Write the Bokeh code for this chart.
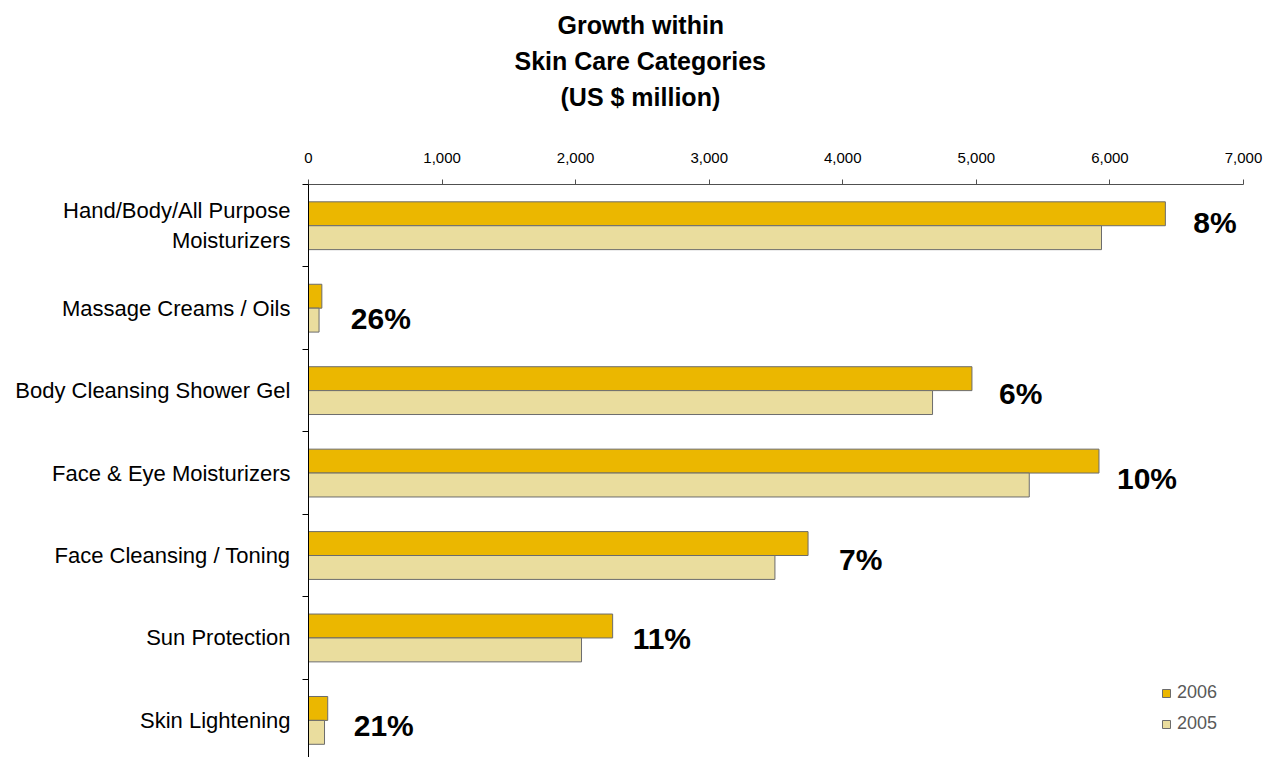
from bokeh.plotting import figure
from bokeh.models import (Range1d, LinearAxis, FixedTicker, NumeralTickFormatter,
                          Legend, LegendItem, Title, ColumnDataSource)
from bokeh.embed import file_html
from bokeh.resources import INLINE

# ---- data ----
categories = ["Hand/Body/All Purpose\nMoisturizers", "Massage Creams / Oils",
              "Body Cleansing Shower Gel", "Face & Eye Moisturizers",
              "Face Cleansing / Toning", "Sun Protection", "Skin Lightening"]
sales_2006 = [6415, 100, 4967, 5918, 3740, 2277, 144]
sales_2005 = [5937, 79, 4672, 5396, 3492, 2044, 120]
growth_labels = ["8%", "26%", "6%", "10%", "7%", "11%", "21%"]
x_ticks = [0, 1000, 2000, 3000, 4000, 5000, 6000, 7000]
series_names = ["2006", "2005"]
title_lines = ["Growth within", "Skin Care Categories", "(US $ million)"]

# ---- layout / style ----
FONT = "Liberation Sans"
C2006 = "#EBB700"
C2005 = "#EADD9E"
OUTLINE = "#6c6c6c"
BAR_H = 0.29
label_dx = [28, 29, 27, 18, 31, 20, 26]
label_dy = [-3, 10, 3, 5, 4, 1, 5]
LEFT, TOP = 308, 184
# left offset of each (left-aligned) title line so that it is centred on the page
title_offsets = [249, 206, 252]

n = len(categories)
idx = list(range(n))

p = figure(width=1265, height=757, output_backend="svg", toolbar_location=None,
           x_range=Range1d(0, 7000), y_range=Range1d(n - 0.55, -0.5),
           x_axis_location="above", y_axis_location=None,
           min_border_left=LEFT, min_border_right=22, min_border_top=TOP,
           min_border_bottom=0, outline_line_color=None)
p.grid.visible = False
p.background_fill_color = "white"

src = ColumnDataSource(dict(
    y6=[i - BAR_H / 2 for i in idx], y5=[i + BAR_H / 2 for i in idx],
    v6=sales_2006, v5=sales_2005, y=idx, lab=growth_labels,
    dx=label_dx, dy=label_dy))

r6 = p.hbar(y="y6", left=0, right="v6", height=BAR_H, source=src,
            fill_color=C2006, line_color=OUTLINE, line_width=1)
r5 = p.hbar(y="y5", left=0, right="v5", height=BAR_H, source=src,
            fill_color=C2005, line_color=OUTLINE, line_width=1)

p.text(x="v6", y="y", text="lab", x_offset="dx", y_offset="dy", source=src,
       text_align="left", text_baseline="middle", text_font_size="30px",
       text_font_style="bold", text_font={"value": FONT}, text_color="black")

# top axis
xa = p.xaxis[0]
xa.ticker = FixedTicker(ticks=x_ticks)
xa.formatter = NumeralTickFormatter(format="0,0")
xa.major_label_text_font = FONT
xa.major_label_text_font_size = "15px"
xa.major_label_text_color = "black"
xa.major_tick_out = 5
xa.major_tick_in = 0
xa.minor_tick_out = 0
xa.minor_tick_in = 0
xa.axis_line_color = "#505050"
xa.major_tick_line_color = "#505050"
xa.major_label_standoff = 17

# left category axis (labels at centres, ticks at band boundaries)
ya = LinearAxis(
    ticker=FixedTicker(ticks=idx, minor_ticks=[i - 0.5 for i in range(n + 1)]),
    major_label_overrides={i: c for i, c in zip(idx, categories)},
    major_tick_out=0, major_tick_in=0, minor_tick_out=6, minor_tick_in=0,
    axis_line_color="black", minor_tick_line_color="black",
    major_label_text_font=FONT, major_label_text_font_size="22px",
    major_label_text_color="black", major_label_standoff=12)
p.add_layout(ya, "left")

legend = Legend(items=[LegendItem(label=series_names[0], renderers=[r6]),
                       LegendItem(label=series_names[1], renderers=[r5])],
                location=(853, 23), glyph_width=10, glyph_height=10,
                label_height=20, label_standoff=6, spacing=10, padding=0,
                margin=0, border_line_color=None, background_fill_alpha=0,
                label_text_font=FONT, label_text_font_size="18px",
                label_text_color="#595959")
p.add_layout(legend)

# blank spacer between the axis labels and the title block
p.add_layout(Title(text=" ", text_font=FONT, text_font_size="24px",
                   standoff=6.5), "above")
# title lines; the last one added sits highest
for line, off in zip(reversed(title_lines), reversed(title_offsets)):
    p.add_layout(Title(text=line, align="left", offset=off,
                       text_font=FONT, text_font_size="25px",
                       text_font_style="bold", text_color="black",
                       standoff=6), "above")

open("out.html", "w").write(file_html(p, INLINE))
